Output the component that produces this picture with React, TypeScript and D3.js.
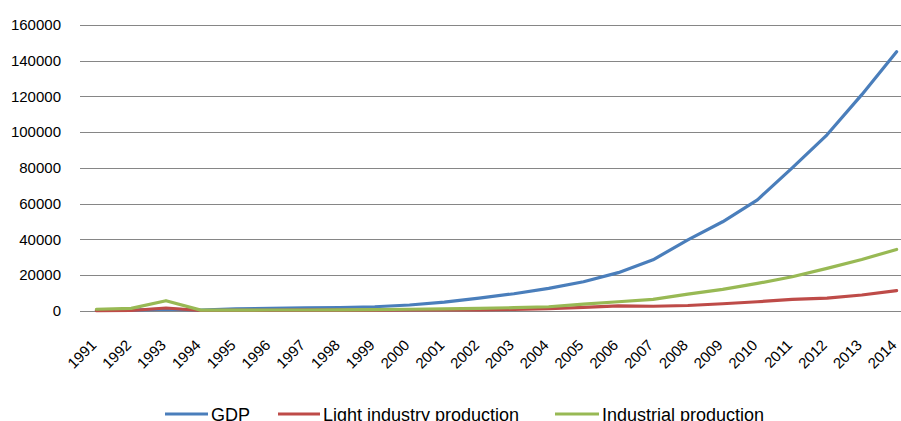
import React from "react";
import * as d3 from "d3";

const years = ["1991","1992","1993","1994","1995","1996","1997","1998","1999","2000","2001","2002","2003","2004","2005","2006","2007","2008","2009","2010","2011","2012","2013","2014"];
const gdp = [100,300,900,400,1000,1300,1600,1800,2200,3200,4800,7000,9500,12500,16200,21300,28500,39700,49800,62100,80000,98500,121000,145000];
const lightIndustry = [0,100,1500,100,200,250,300,300,350,400,450,500,700,1100,1900,2700,2500,2900,3900,5000,6300,7000,8800,11200];
const industrial = [800,1300,5600,300,300,400,400,500,600,800,1000,1300,1700,2200,3700,5000,6300,9300,11900,15300,19000,23700,28700,34300];
const yTicks = [0,20000,40000,60000,80000,100000,120000,140000,160000];

const seriesNames = ["GDP", "Light industry production", "Industrial production"];
const seriesColors = ["#4A7EBB", "#BE4B48", "#98B954"];

export default function App() {
  const W = 901, H = 421;
  const plotLeft = 79, plotRight = 914, plotTop = 25, plotBottom = 310.7;
  const x = d3.scaleBand<string>().domain(years).range([plotLeft, plotRight]);
  const y = d3.scaleLinear().domain([0, 160000]).range([plotBottom, plotTop]);
  const cx = (yr: string) => (x(yr) as number) + x.bandwidth() / 2;
  const all = [gdp, lightIndustry, industrial];
  const line = d3.line<number>().x((_, i) => cx(years[i])).y((v) => y(v));
  const font = "'Liberation Sans', Arial, sans-serif";

  const legendItems = [
    { x1: 165, x2: 208, tx: 211 },
    { x1: 278, x2: 320, tx: 323 },
    { x1: 555, x2: 599, tx: 602 },
  ];

  return (
    <svg width={W} height={H} style={{ position: "absolute", left: 0, top: 0, background: "#fff" }}>
      <rect x={0} y={0} width={W} height={H} fill="#fff" />
      {yTicks.map((t) => (
        <g key={t}>
          <line x1={80} x2={W} y1={Math.round(y(t)) + 0.5} y2={Math.round(y(t)) + 0.5} stroke="#868686" strokeWidth={1} />
          <text x={61} y={y(t) + 5.3} textAnchor="end" fontFamily={font} fontSize={15} fill="#000">{t}</text>
        </g>
      ))}
      {years.map((yr) => (
        <text key={yr} x={cx(yr) + 1} y={346} textAnchor="end" fontFamily={font} fontSize={15} fill="#000"
          transform={`rotate(-45 ${cx(yr) + 1} 346)`}>{yr}</text>
      ))}
      {all.map((s, i) => (
        <path key={i} d={line(s) as string} fill="none" stroke={seriesColors[i]} strokeWidth={3.2}
          strokeLinejoin="round" strokeLinecap="round" />
      ))}
      {legendItems.map((it, i) => (
        <g key={i}>
          <line x1={it.x1} x2={it.x2} y1={414} y2={414} stroke={seriesColors[i]} strokeWidth={3.2} />
          <text x={it.tx} y={421} fontFamily={font} fontSize={18} fill="#000">{seriesNames[i]}</text>
        </g>
      ))}
    </svg>
  );
}
